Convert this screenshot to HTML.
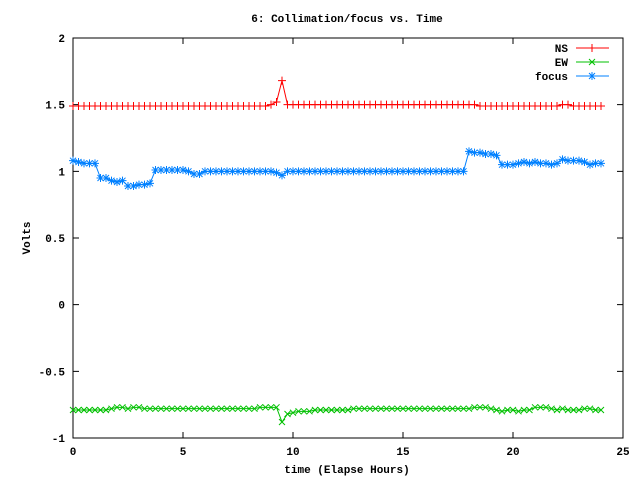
<!DOCTYPE html>
<html><head><meta charset="utf-8"><style>
html,body{margin:0;padding:0;background:#fff;}
svg text{font-family:"Liberation Mono",monospace;font-weight:bold;font-size:11px;fill:#000;}
</style></head><body>
<svg id="chart" width="640" height="480" xmlns="http://www.w3.org/2000/svg">
<rect x="0" y="0" width="640" height="480" fill="#fff"/>
<g id="axes"></g>
<g id="series"></g>
<text x="347" y="22" text-anchor="middle">6: Collimation/focus vs. Time</text>
<text x="347" y="473" text-anchor="middle">time (Elapse Hours)</text>
<text x="30" y="238" text-anchor="middle" transform="rotate(-90 30 238)">Volts</text>
</svg>
<script>
const times=[0,0.25,0.5,0.75,1,1.25,1.5,1.75,2,2.25,2.5,2.75,3,3.25,3.5,3.75,4,4.25,4.5,4.75,5,5.25,5.5,5.75,6,6.25,6.5,6.75,7,7.25,7.5,7.75,8,8.25,8.5,8.75,9,9.25,9.5,9.75,10,10.25,10.5,10.75,11,11.25,11.5,11.75,12,12.25,12.5,12.75,13,13.25,13.5,13.75,14,14.25,14.5,14.75,15,15.25,15.5,15.75,16,16.25,16.5,16.75,17,17.25,17.5,17.75,18,18.25,18.5,18.75,19,19.25,19.5,19.75,20,20.25,20.5,20.75,21,21.25,21.5,21.75,22,22.25,22.5,22.75,23,23.25,23.5,23.75,24];
const focusVals=[1.08,1.07,1.06,1.06,1.06,0.95,0.95,0.93,0.92,0.93,0.89,0.89,0.90,0.90,0.91,1.01,1.01,1.01,1.01,1.01,1.01,1.00,0.98,0.98,1.00,
1.00,1.00,1.00,1.00,1.00,1.00,1.00,1.00,1.00,1.00,1.00,1.00,0.99,0.97,
1.00,1.00,1.00,1.00,1.00,1.00,1.00,1.00,1.00,1.00,1.00,1.00,1.00,1.00,1.00,1.00,1.00,1.00,1.00,1.00,1.00,1.00,1.00,1.00,1.00,1.00,1.00,1.00,1.00,1.00,1.00,1.00,1.00,
1.15,1.14,1.14,1.13,1.13,1.12,1.05,1.05,1.05,1.06,1.07,1.06,1.07,1.06,1.06,1.05,1.06,1.09,1.08,1.08,1.08,1.07,1.05,1.06,1.06];
const nsVals=[1.49,1.49,1.49,1.49,1.49,1.49,1.49,1.49,1.49,1.49,1.49,1.49,1.49,1.49,1.49,1.49,1.49,1.49,1.49,1.49,1.49,1.49,1.49,1.49,1.49,
1.49,1.49,1.49,1.49,1.49,1.49,1.49,1.49,1.49,1.49,1.49,1.50,1.52,1.68,
1.50,1.50,1.50,1.50,1.50,1.50,1.50,1.50,1.50,1.50,1.50,1.50,1.50,1.50,1.50,1.50,1.50,1.50,1.50,1.50,1.50,1.50,1.50,1.50,1.50,1.50,1.50,1.50,1.50,1.50,1.50,1.50,1.50,
1.50,1.50,1.49,1.49,1.49,1.49,1.49,1.49,1.49,1.49,1.49,1.49,1.49,1.49,1.49,1.49,1.49,1.50,1.50,1.49,1.49,1.49,1.49,1.49,1.49];
const ewVals=[-0.79,-0.79,-0.79,-0.79,-0.79,-0.79,-0.79,-0.78,-0.77,-0.77,-0.78,-0.77,-0.77,-0.78,-0.78,-0.78,-0.78,-0.78,-0.78,-0.78,-0.78,-0.78,-0.78,-0.78,-0.78,
-0.78,-0.78,-0.78,-0.78,-0.78,-0.78,-0.78,-0.78,-0.78,-0.77,-0.77,-0.77,-0.77,-0.88,
-0.82,-0.81,-0.80,-0.80,-0.80,-0.79,-0.79,-0.79,-0.79,-0.79,-0.79,-0.79,-0.78,-0.78,-0.78,-0.78,-0.78,-0.78,-0.78,-0.78,-0.78,-0.78,-0.78,-0.78,-0.78,-0.78,-0.78,-0.78,-0.78,-0.78,-0.78,-0.78,-0.78,
-0.78,-0.77,-0.77,-0.77,-0.78,-0.79,-0.80,-0.79,-0.79,-0.80,-0.79,-0.79,-0.77,-0.77,-0.77,-0.78,-0.79,-0.78,-0.79,-0.79,-0.79,-0.78,-0.78,-0.79,-0.79];
const xTicks=[0,5,10,15,20,25];
const yTicks=[-1,-0.5,0,0.5,1,1.5,2];
const yTickLabels=["-1","-0.5","0","0.5","1","1.5","2"];

const L=73,R=623,T=38,B=438;
const xS=v=>L+(v-0)/25*(R-L);
const yS=v=>B-(v+1)/3*(B-T);
const NS="http://www.w3.org/2000/svg";
function mk(tag,attrs,parent){const e=document.createElementNS(NS,tag);for(const k in attrs)e.setAttribute(k,attrs[k]);parent.appendChild(e);return e;}
const ax=document.getElementById('axes');
const box=mk('rect',{x:L,y:T,width:R-L,height:B-T,fill:'none',stroke:'#000','stroke-width':1},ax);


xTicks.forEach(v=>{
  const x=xS(v);
  const t=mk('path',{d:`M${x},${B}v-6M${x},${T}v6`,stroke:'#000'},ax);
  
  
  const lb=mk('text',{x:x,y:B+17,'text-anchor':'middle'},ax);lb.textContent=v;
  
  
});
yTicks.forEach((v,i)=>{
  const y=yS(v);
  const t=mk('path',{d:`M${L},${y}h6M${R},${y}h-6`,stroke:'#000'},ax);
  
  
  const lb=mk('text',{x:L-8,y:y+4,'text-anchor':'end'},ax);lb.textContent=yTickLabels[i];
  
  
});
function marker(type,x,y,color,g){
  let d;
  if(type==='plus')d=`M${x-4},${y}h8M${x},${y-4}v8`;
  else if(type==='cross')d=`M${x-3},${y-3}l6,6M${x-3},${y+3}l6,-6`;
  else d=`M${x-4},${y}h8M${x},${y-4}v8M${x-3},${y-3}l6,6M${x-3},${y+3}l6,-6`;
  return mk('path',{d:d,stroke:color,'stroke-width':1,fill:'none'},g);
}
const sg=document.getElementById('series');
function series(vals,color,type,name){
  const g=mk('g',{},sg);
  
  
  const pts=vals.map((v,i)=>xS(times[i])+','+yS(v)).join(' ');
  const pl=mk('polyline',{points:pts,fill:'none',stroke:color,'stroke-width':1},g);
  
  
  vals.forEach((v,i)=>{
    const m=marker(type,xS(times[i]),yS(v),color,g);
    
    
  });
}
series(nsVals,'#ff0000','plus','ns');
series(ewVals,'#00c000','cross','ew');
series(focusVals,'#0080ff','star','focus');
// legend
const lg=mk('g',{},sg);


[['NS','#ff0000','plus'],['EW','#00c000','cross'],['focus','#0080ff','star']].forEach((e,i)=>{
  const y=48+i*14;
  const t=mk('text',{x:568,y:y+4,'text-anchor':'end'},lg);t.textContent=e[0];
  
  
  const l=mk('path',{d:`M576,${y}h33`,stroke:e[1]},lg);
  
  
  marker(e[2],592,y,e[1],lg);
});
</script>
</body></html>
